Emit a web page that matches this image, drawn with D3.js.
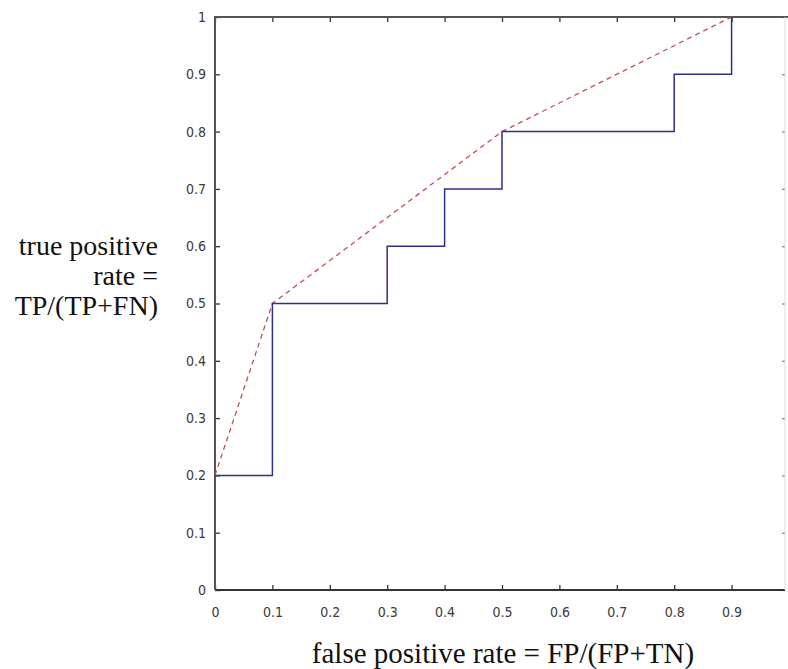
<!DOCTYPE html>
<html>
<head>
<meta charset="utf-8">
<script src="https://cdn.jsdelivr.net/npm/d3@7"></script>
<style>
  html, body { margin: 0; padding: 0; background: #fff; }
  svg { display: block; }
</style>
</head>
<body>
<svg id="chart" width="788" height="669"></svg>
<script>
// ROC step curve (blue) points: false positive rate, true positive rate
const rocFPR = [0, 0.1, 0.1, 0.3, 0.3, 0.4, 0.4, 0.5, 0.5, 0.8, 0.8, 0.9, 0.9];
const rocTPR = [0.2, 0.2, 0.5, 0.5, 0.6, 0.6, 0.7, 0.7, 0.8, 0.8, 0.9, 0.9, 1.0];
// Convex hull (red dashed)
const hullFPR = [0, 0.1, 0.5, 0.9];
const hullTPR = [0.2, 0.5, 0.8, 1.0];
// Tick values
const xTicks = [0, 0.1, 0.2, 0.3, 0.4, 0.5, 0.6, 0.7, 0.8, 0.9, 1.0];
const yTicks = [0, 0.1, 0.2, 0.3, 0.4, 0.5, 0.6, 0.7, 0.8, 0.9, 1.0];
const xLabelText = "false positive rate = FP/(FP+TN)";
const yLabelLines = ["true positive", "rate =", "TP/(TP+FN)"];

const svg = d3.select("#chart");
const x = d3.scaleLinear().domain([0, 1]).range([215, 789]);
const y = d3.scaleLinear().domain([0, 1]).range([590, 17]);

const frameColor = "#333";
const fmt = d => d === 0 ? "0" : d === 1 ? "1" : d3.format(".1f")(d);

// Axes with inward ticks
const gx = svg.append("g").attr("transform", `translate(0,${y(0)})`)
  .call(d3.axisBottom(x).tickValues(xTicks).tickSize(-5).tickPadding(17).tickFormat(fmt));
const gxTop = svg.append("g").attr("transform", `translate(0,${y(1)})`)
  .call(d3.axisTop(x).tickValues(xTicks).tickSize(-5).tickFormat(""));
const gy = svg.append("g").attr("transform", `translate(${x(0)},0)`)
  .call(d3.axisLeft(y).tickValues(yTicks).tickSize(-5).tickPadding(9).tickFormat(fmt));
const gyR = svg.append("g").attr("transform", `translate(${x(1) - 4},0)`)
  .call(d3.axisRight(y).tickValues(yTicks).tickSize(-3).tickFormat(""));

[gx, gxTop, gy, gyR].forEach(g => {
  g.select(".domain").remove();
  g.selectAll(".tick line").attr("stroke", frameColor).attr("stroke-width", 1.3);
  g.selectAll(".tick text")
    .attr("fill", "#3a3a3a")
    .style("font-family", "'DejaVu Sans Condensed', 'Liberation Sans Narrow', sans-serif")
    .style("font-size", "14px");
});
gyR.selectAll(".tick line").attr("stroke", "#888");
gx.selectAll(".tick").filter(d => d === 1).select("text").remove();

// Frame
svg.append("path")
  .attr("d", `M${x(0)},${y(0)}H${x(1) - 4}`)
  .attr("stroke", frameColor).attr("stroke-width", 2).attr("fill", "none");
svg.append("path")
  .attr("d", `M${x(0)},${y(0)}V${y(1)}H${x(1)}`)
  .attr("stroke", "#555").attr("stroke-width", 2).attr("fill", "none");
svg.append("path")
  .attr("d", `M${x(1) - 4},${y(1)}V${y(0)}`)
  .attr("stroke", "#ddd").attr("stroke-width", 1).attr("fill", "none");

// Hull (red dashed)
const pathLine = d3.line().x(d => x(d[0])).y(d => y(d[1]));
svg.append("path")
  .datum(d3.zip(hullFPR, hullTPR))
  .attr("d", pathLine)
  .attr("fill", "none")
  .attr("stroke", "#c0504d")
  .attr("stroke-width", 1.3)
  .attr("stroke-dasharray", "5,4");

// ROC step (blue)
svg.append("path")
  .datum(d3.zip(rocFPR, rocTPR))
  .attr("d", pathLine)
  .attr("fill", "none")
  .attr("stroke", "#2e2e8c")
  .attr("stroke-width", 1.5);

// Axis labels
svg.append("text")
  .attr("x", 503).attr("y", 663)
  .attr("text-anchor", "middle")
  .style("font-family", "'Liberation Serif', 'Times New Roman', serif")
  .style("font-size", "29px")
  .attr("fill", "#111")
  .text(xLabelText);

const yl = svg.append("text")
  .attr("text-anchor", "end")
  .style("font-family", "'Liberation Serif', 'Times New Roman', serif")
  .style("font-size", "28px")
  .attr("fill", "#111");
yLabelLines.forEach((t, i) => {
  yl.append("tspan").attr("x", 158).attr("y", 255 + i * 30).text(t);
});
</script>
</body>
</html>
